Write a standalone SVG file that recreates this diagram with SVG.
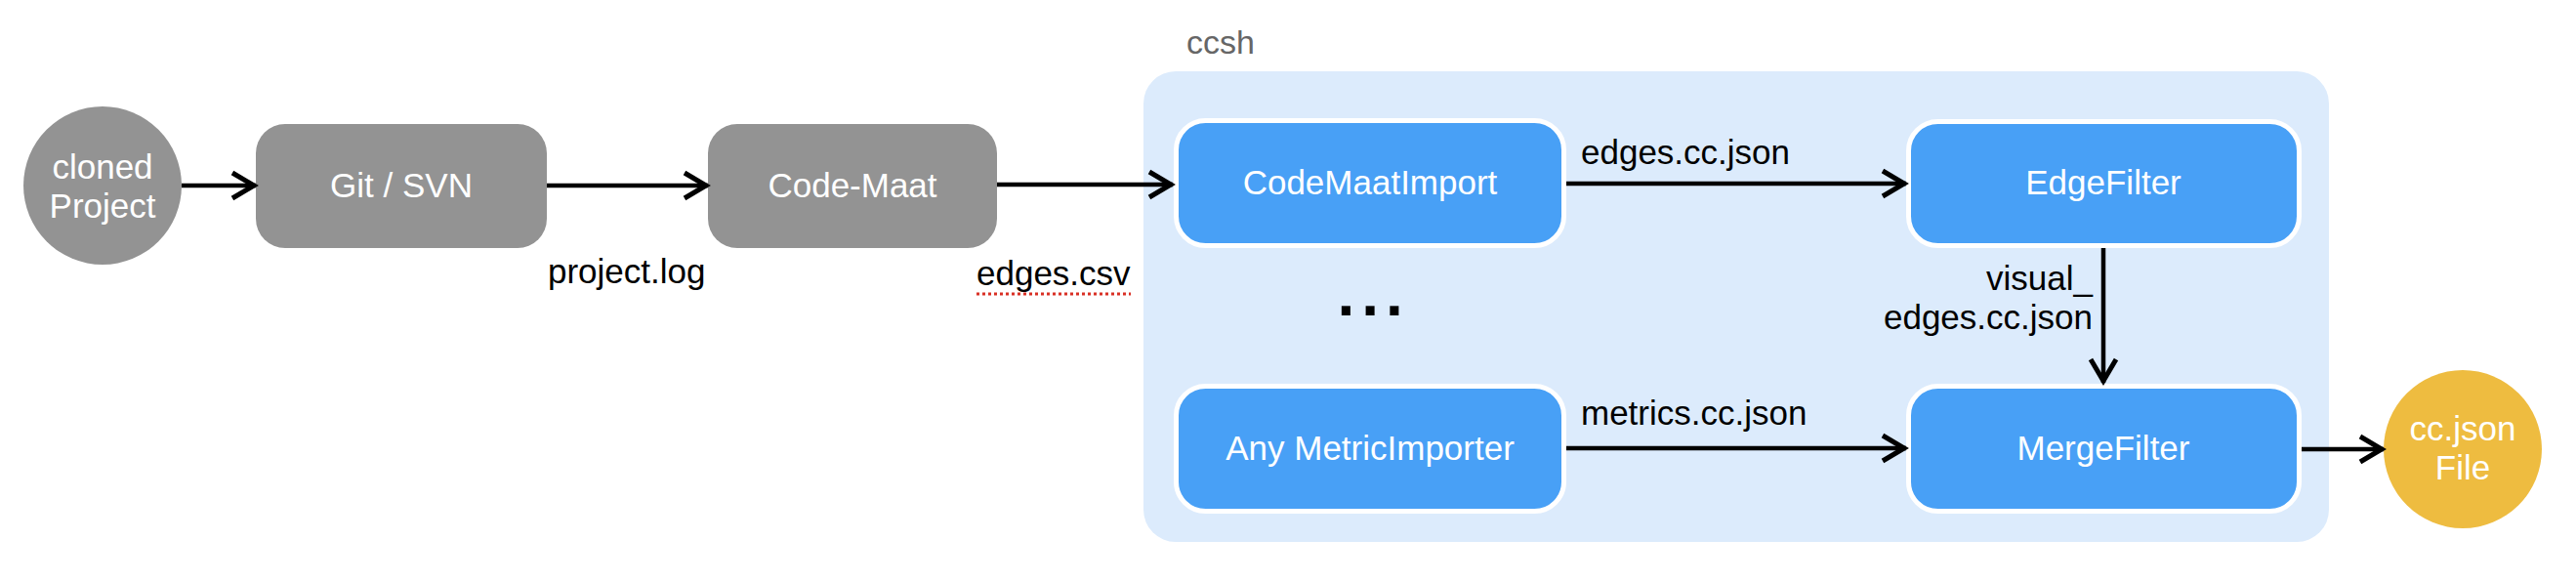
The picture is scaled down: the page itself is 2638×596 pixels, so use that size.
<svg xmlns="http://www.w3.org/2000/svg" width="2638" height="596" viewBox="0 0 2638 596">
<style>
.grey{fill:#939393}
.blue{fill:#48A0F6;stroke:#FFFFFF;stroke-width:5}
.nt{font-family:"Liberation Sans",Arial,sans-serif;font-size:35px;fill:#FFFFFF;text-anchor:middle}
.lbl{font-family:"Liberation Sans",Arial,sans-serif;font-size:35px;fill:#000000}
.edge{stroke:#000000;stroke-width:4.5;fill:none;marker-end:url(#arr)}
</style>
<defs>
<marker id="arr" markerUnits="userSpaceOnUse" markerWidth="34" markerHeight="34" viewBox="0 0 34 34" refX="29" refY="17" orient="auto">
<path d="M5,4 L27,17 L5,30" fill="none" stroke="#000000" stroke-width="5" stroke-linejoin="miter" stroke-linecap="butt"/>
</marker>
</defs>
<rect width="2638" height="596" fill="#FFFFFF"/>
<g id="ccsh">
<rect x="1171" y="73" width="1214" height="482" rx="33" fill="#DCEBFC"/>
<text x="1215" y="55" style="font-family:'Liberation Sans',Arial,sans-serif;font-size:34px;fill:#666666">ccsh</text>
</g>
<g id="cloned">
<circle cx="105" cy="190" r="81" class="grey"/>
<text class="nt" x="105" y="183">cloned</text>
<text class="nt" x="105" y="223">Project</text>
</g>
<g id="git">
<rect x="262" y="127" width="298" height="127" rx="30" class="grey"/>
<text class="nt" x="411" y="202">Git / SVN</text>
</g>
<g id="codemaat">
<rect x="725" y="127" width="296" height="127" rx="30" class="grey"/>
<text class="nt" x="873" y="202">Code-Maat</text>
</g>
<g id="codemaatimport">
<rect x="1204.5" y="123.5" width="397" height="128" rx="30" class="blue"/>
<text class="nt" x="1403" y="199">CodeMaatImport</text>
</g>
<g id="edgefilter">
<rect x="1954.5" y="124.5" width="400" height="127" rx="30" class="blue"/>
<text class="nt" x="2154" y="199">EdgeFilter</text>
</g>
<g id="anymetric">
<rect x="1204.5" y="395.5" width="397" height="128" rx="30" class="blue"/>
<text class="nt" x="1403" y="471">Any MetricImporter</text>
</g>
<g id="mergefilter">
<rect x="1954.5" y="395.5" width="400" height="128" rx="30" class="blue"/>
<text class="nt" x="2154" y="471">MergeFilter</text>
</g>
<g id="ccjson">
<circle cx="2522" cy="460" r="81" fill="#EEBC40"/>
<text class="nt" x="2522" y="451">cc.json</text>
<text class="nt" x="2522" y="491">File</text>
</g>
<g id="dots">
<text x="1369.5" y="323" style="font-family:'Liberation Sans',Arial,sans-serif;font-size:64px;font-weight:bold;fill:#000000;letter-spacing:7px">...</text>
</g>
<g id="connectors">
<line class="edge" x1="186" y1="190" x2="262" y2="190"/>
<line class="edge" x1="560" y1="190" x2="725" y2="190"/>
<line class="edge" x1="1021" y1="189" x2="1201" y2="189"/>
<line class="edge" x1="1604" y1="188" x2="1952" y2="188"/>
<line class="edge" x1="2154" y1="254" x2="2154" y2="392"/>
<line class="edge" x1="1604" y1="459" x2="1952" y2="459"/>
<line class="edge" x1="2357" y1="460" x2="2441" y2="460"/>
<text class="lbl" x="561" y="290">project.log</text>
<text class="lbl" x="1000" y="292">edges.csv</text>
<line x1="1000" y1="301" x2="1158" y2="301" stroke="#D93025" stroke-width="3" stroke-dasharray="3,3"/>
<text class="lbl" x="1619" y="168">edges.cc.json</text>
<text class="lbl" x="1619" y="435">metrics.cc.json</text>
<text class="lbl" x="2143" y="297" text-anchor="end">visual_</text>
<text class="lbl" x="2143" y="337" text-anchor="end">edges.cc.json</text>
</g>
</svg>
